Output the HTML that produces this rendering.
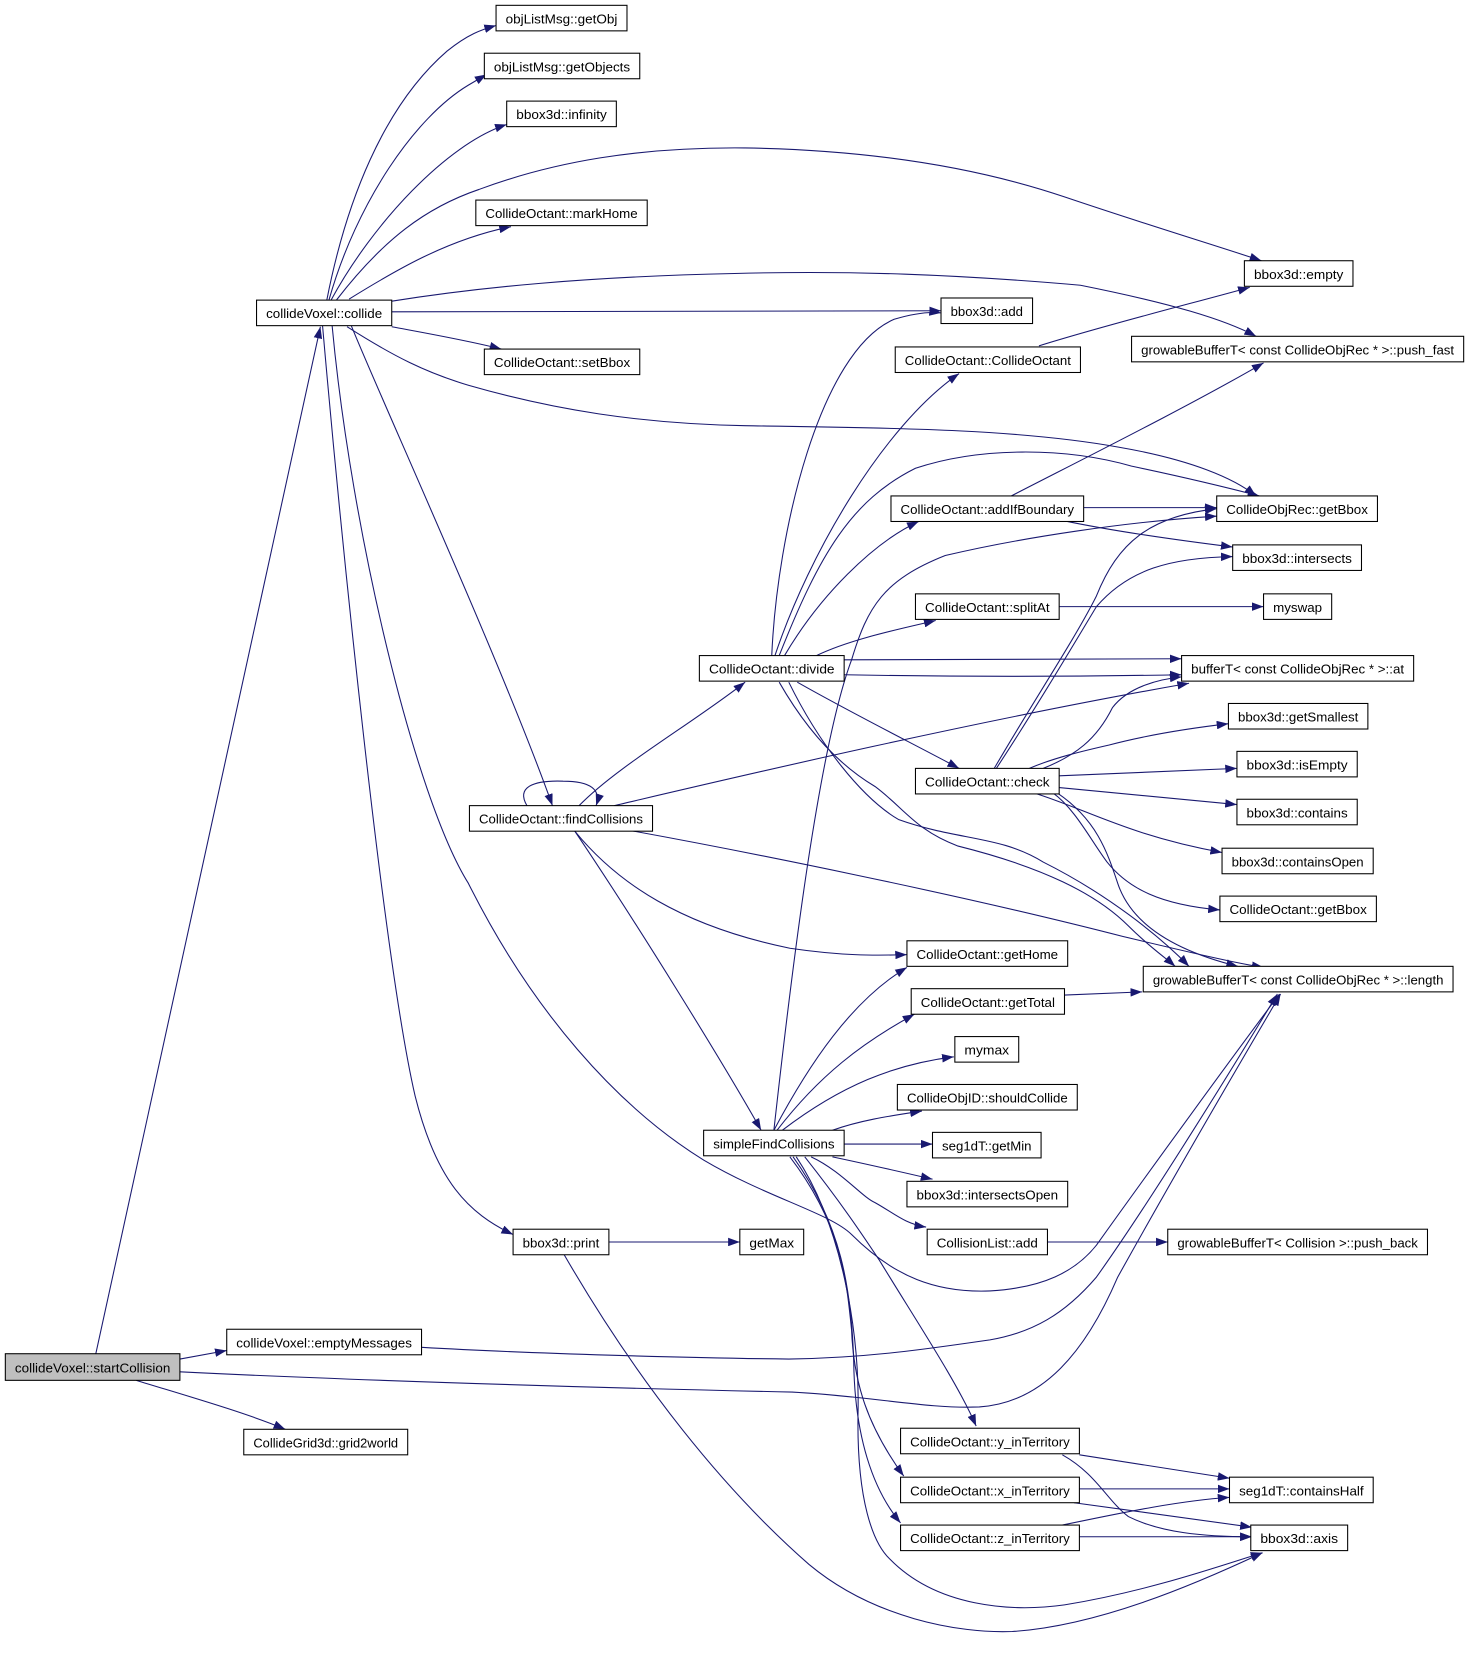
<!DOCTYPE html>
<html><head><meta charset="utf-8"><style>
html,body{margin:0;padding:0;background:#fff;}
svg{display:block;}
text{font-family:"Liberation Sans",Arial,sans-serif;font-size:12.5px;fill:#000;}
.e{fill:none;stroke:#191970;stroke-width:1;marker-end:url(#ah);}
.n{fill:#fff;stroke:#000;stroke-width:1;}
</style></head><body>
<svg width="1469" height="1673" viewBox="0 0 1380 1572" preserveAspectRatio="none" xmlns="http://www.w3.org/2000/svg">
<defs>
<marker id="ah" viewBox="0 0 11 8" refX="11" refY="4" markerWidth="11" markerHeight="8" markerUnits="userSpaceOnUse" orient="auto">
<path d="M0,0 L11,4 L0,8 z" fill="#191970"/>
</marker>
</defs>
<rect width="1380" height="1572" fill="#fff"/>
<!-- edges -->
<path class="e" d="M90,1272 L301,307"/>
<path class="e" d="M169,1277 L213,1269"/>
<path class="e" d="M169,1289 C350,1298 600,1305 744,1308 C820,1312 870,1324 920,1322 C980,1318 1020,1270 1050,1200 C1100,1110 1170,990 1203,934"/>
<path class="e" d="M128,1297 C170,1310 230,1327 268,1343"/>
<path class="e" d="M396,1266 C500,1272 650,1276 741,1277 C820,1276 880,1266 930,1259 C970,1252 1000,1235 1030,1200 C1080,1130 1160,1000 1200,934"/>
<path class="e" d="M307,282 C325,190 360,100 420,48 C440,32 452,28 466,24"/>
<path class="e" d="M309,282 C335,190 390,110 440,80 L457,70"/>
<path class="e" d="M311,282 C350,210 420,135 476,117"/>
<path class="e" d="M316,282 C360,225 400,195 450,178 C520,152 600,138 700,139 C820,141 920,158 1000,185 C1080,212 1140,230 1185,245"/>
<path class="e" d="M328,281 C370,255 420,225 480,213"/>
<path class="e" d="M368,283 C450,270 550,260 690,257 C800,254 900,258 1015,268 C1100,285 1150,300 1180,316"/>
<path class="e" d="M368,293 L884,292"/>
<path class="e" d="M368,307 C400,313 440,320 471,328"/>
<path class="e" d="M326,307 C370,335 400,350 440,362 C520,385 600,398 700,400 C820,402 950,402 1050,420 C1120,432 1160,450 1180,466"/>
<path class="e" d="M330,306 C360,380 470,620 519,757"/>
<path class="e" d="M303,306 C320,500 360,900 390,1030 C410,1110 440,1140 482,1160"/>
<path class="e" d="M312,306 C330,500 390,750 440,830 C500,950 580,1040 661,1090 C720,1125 780,1140 800,1160 C840,1200 880,1215 930,1213 C980,1210 1010,1195 1030,1170 C1080,1100 1160,990 1202,934"/>
<path class="e" d="M495,757 C485,740 500,733 529,734 C555,734 565,742 560,757"/>
<path class="e" d="M544,757 C580,720 650,680 700,641"/>
<path class="e" d="M577,757 C650,740 900,680 1117,642"/>
<path class="e" d="M590,780 C700,800 900,840 1055,880 C1110,893 1160,905 1187,909"/>
<path class="e" d="M540,781 C600,870 680,1000 715,1062"/>
<path class="e" d="M540,781 C580,830 640,870 742,891 C790,898 820,898 852,897"/>
<path class="e" d="M725,616 C730,500 770,330 840,300 C860,294 875,293 884,294"/>
<path class="e" d="M728,616 C760,520 830,400 901,351"/>
<path class="e" d="M732,616 C770,520 800,470 860,440 C920,420 1000,420 1063,438 C1120,450 1160,460 1183,466"/>
<path class="e" d="M737,616 C770,560 820,510 863,490"/>
<path class="e" d="M767,616 C800,600 850,590 879,583"/>
<path class="e" d="M793,620 L1110,619"/>
<path class="e" d="M793,634 C900,636 1000,636 1110,634"/>
<path class="e" d="M749,641 C800,670 860,700 901,722"/>
<path class="e" d="M732,641 C760,690 790,720 822,739 C850,760 860,780 900,795 C980,815 1030,840 1060,870 C1080,890 1095,900 1104,908"/>
<path class="e" d="M741,641 C770,700 810,750 844,770 C900,790 940,785 980,810 C1040,840 1090,880 1117,908"/>
<path class="e" d="M950,466 C1020,430 1120,380 1187,341"/>
<path class="e" d="M1018,477 L1143,477"/>
<path class="e" d="M998,489 C1050,500 1110,508 1158,514"/>
<path class="e" d="M976,325 C1040,305 1120,285 1174,270"/>
<path class="e" d="M995,570 L1187,570"/>
<path class="e" d="M934,722 C970,660 1010,600 1030,560 C1050,510 1080,485 1143,478"/>
<path class="e" d="M936,722 C970,670 1000,620 1030,570 C1060,535 1100,524 1158,523"/>
<path class="e" d="M980,722 C1010,710 1030,695 1045,665 C1060,645 1090,638 1110,636"/>
<path class="e" d="M967,722 C990,712 1020,705 1042,700 C1080,690 1120,684 1154,680"/>
<path class="e" d="M995,729 L1162,722"/>
<path class="e" d="M995,740 L1162,756"/>
<path class="e" d="M971,745 C1020,760 1060,785 1148,801"/>
<path class="e" d="M989,745 C1010,760 1025,790 1040,810 C1060,835 1090,850 1146,855"/>
<path class="e" d="M993,745 C1030,770 1040,800 1050,830 C1060,860 1090,890 1163,908"/>
<path class="e" d="M1000,935 L1073,932"/>
<path class="e" d="M727,1062 C745,900 770,700 800,620 C815,570 830,545 888,522 C960,505 1060,490 1143,485"/>
<path class="e" d="M727,1062 C760,1000 800,940 852,909"/>
<path class="e" d="M730,1062 C770,1010 810,980 859,953"/>
<path class="e" d="M735,1062 C790,1020 840,1000 896,993"/>
<path class="e" d="M782,1062 C810,1052 840,1048 866,1044"/>
<path class="e" d="M793,1075 L876,1075"/>
<path class="e" d="M782,1087 C820,1095 850,1102 876,1108"/>
<path class="e" d="M762,1087 C790,1100 810,1125 822,1130 C840,1140 850,1150 870,1153"/>
<path class="e" d="M756,1087 C790,1130 810,1160 826,1184 C860,1240 900,1300 917,1340"/>
<path class="e" d="M742,1087 C790,1150 795,1200 800,1250 C802,1300 815,1340 849,1387"/>
<path class="e" d="M745,1087 C790,1150 800,1210 802,1280 C803,1350 820,1400 846,1431"/>
<path class="e" d="M748,1087 C790,1150 808,1250 806,1330 C805,1410 820,1450 836,1465 C880,1510 950,1515 1000,1508 C1080,1495 1150,1470 1186,1459"/>
<path class="e" d="M530,1179 C600,1300 680,1400 760,1470 C820,1520 900,1535 951,1533 C1030,1528 1120,1490 1186,1459"/>
<path class="e" d="M572,1167 L695,1167"/>
<path class="e" d="M984,1167 L1097,1167"/>
<path class="e" d="M1014,1367 L1155,1389"/>
<path class="e" d="M998,1367 C1030,1385 1040,1410 1060,1425 C1090,1440 1130,1444 1176,1444"/>
<path class="e" d="M1014,1399 L1155,1399"/>
<path class="e" d="M1009,1412 L1176,1435"/>
<path class="e" d="M998,1433 C1060,1420 1110,1410 1155,1407"/>
<path class="e" d="M1014,1444 L1176,1444"/>
<!-- nodes -->
<g>
<rect class="n" x="466" y="5" width="123" height="24"/><text x="527.5" y="22" text-anchor="middle" textLength="105" lengthAdjust="spacingAndGlyphs">objListMsg::getObj</text>
<rect class="n" x="455" y="50" width="146" height="24"/><text x="528" y="67" text-anchor="middle" textLength="128" lengthAdjust="spacingAndGlyphs">objListMsg::getObjects</text>
<rect class="n" x="476" y="95" width="103" height="24"/><text x="527.5" y="112" text-anchor="middle" textLength="85" lengthAdjust="spacingAndGlyphs">bbox3d::infinity</text>
<rect class="n" x="447" y="188" width="161" height="24"/><text x="527.5" y="205" text-anchor="middle" textLength="143" lengthAdjust="spacingAndGlyphs">CollideOctant::markHome</text>
<rect class="n" x="241" y="282" width="127" height="24"/><text x="304.5" y="299" text-anchor="middle" textLength="109" lengthAdjust="spacingAndGlyphs">collideVoxel::collide</text>
<rect class="n" x="455" y="328" width="146" height="24"/><text x="528" y="345" text-anchor="middle" textLength="128" lengthAdjust="spacingAndGlyphs">CollideOctant::setBbox</text>
<rect class="n" x="1169" y="245" width="102" height="24"/><text x="1220" y="262" text-anchor="middle" textLength="84" lengthAdjust="spacingAndGlyphs">bbox3d::empty</text>
<rect class="n" x="884" y="280" width="86" height="24"/><text x="927" y="297" text-anchor="middle" textLength="68" lengthAdjust="spacingAndGlyphs">bbox3d::add</text>
<rect class="n" x="841" y="326" width="174" height="24"/><text x="928" y="343" text-anchor="middle" textLength="156" lengthAdjust="spacingAndGlyphs">CollideOctant::CollideOctant</text>
<rect class="n" x="1063" y="316" width="312" height="24"/><text x="1219" y="333" text-anchor="middle" textLength="294" lengthAdjust="spacingAndGlyphs">growableBufferT&lt; const CollideObjRec * &gt;::push_fast</text>
<rect class="n" x="837" y="466" width="181" height="24"/><text x="927.5" y="483" text-anchor="middle" textLength="163" lengthAdjust="spacingAndGlyphs">CollideOctant::addIfBoundary</text>
<rect class="n" x="1143" y="466" width="151" height="24"/><text x="1218.5" y="483" text-anchor="middle" textLength="133" lengthAdjust="spacingAndGlyphs">CollideObjRec::getBbox</text>
<rect class="n" x="1158" y="512" width="121" height="24"/><text x="1218.5" y="529" text-anchor="middle" textLength="103" lengthAdjust="spacingAndGlyphs">bbox3d::intersects</text>
<rect class="n" x="860" y="558" width="135" height="24"/><text x="927.5" y="575" text-anchor="middle" textLength="117" lengthAdjust="spacingAndGlyphs">CollideOctant::splitAt</text>
<rect class="n" x="1187" y="558" width="64" height="24"/><text x="1219" y="575" text-anchor="middle" textLength="46" lengthAdjust="spacingAndGlyphs">myswap</text>
<rect class="n" x="657" y="616" width="136" height="24"/><text x="725" y="633" text-anchor="middle" textLength="118" lengthAdjust="spacingAndGlyphs">CollideOctant::divide</text>
<rect class="n" x="1110" y="616" width="218" height="24"/><text x="1219" y="633" text-anchor="middle" textLength="200" lengthAdjust="spacingAndGlyphs">bufferT&lt; const CollideObjRec * &gt;::at</text>
<rect class="n" x="1154" y="661" width="131" height="24"/><text x="1219.5" y="678" text-anchor="middle" textLength="113" lengthAdjust="spacingAndGlyphs">bbox3d::getSmallest</text>
<rect class="n" x="1162" y="706" width="113" height="24"/><text x="1218.5" y="723" text-anchor="middle" textLength="95" lengthAdjust="spacingAndGlyphs">bbox3d::isEmpty</text>
<rect class="n" x="860" y="722" width="135" height="24"/><text x="927.5" y="739" text-anchor="middle" textLength="117" lengthAdjust="spacingAndGlyphs">CollideOctant::check</text>
<rect class="n" x="1162" y="751" width="113" height="24"/><text x="1218.5" y="768" text-anchor="middle" textLength="95" lengthAdjust="spacingAndGlyphs">bbox3d::contains</text>
<rect class="n" x="441" y="757" width="172" height="24"/><text x="527" y="774" text-anchor="middle" textLength="154" lengthAdjust="spacingAndGlyphs">CollideOctant::findCollisions</text>
<rect class="n" x="1148" y="797" width="142" height="24"/><text x="1219" y="814" text-anchor="middle" textLength="124" lengthAdjust="spacingAndGlyphs">bbox3d::containsOpen</text>
<rect class="n" x="1146" y="842" width="147" height="24"/><text x="1219.5" y="859" text-anchor="middle" textLength="129" lengthAdjust="spacingAndGlyphs">CollideOctant::getBbox</text>
<rect class="n" x="852" y="884" width="151" height="24"/><text x="927.5" y="901" text-anchor="middle" textLength="133" lengthAdjust="spacingAndGlyphs">CollideOctant::getHome</text>
<rect class="n" x="1074" y="908" width="291" height="24"/><text x="1219.5" y="925" text-anchor="middle" textLength="273" lengthAdjust="spacingAndGlyphs">growableBufferT&lt; const CollideObjRec * &gt;::length</text>
<rect class="n" x="856" y="929" width="144" height="24"/><text x="928" y="946" text-anchor="middle" textLength="126" lengthAdjust="spacingAndGlyphs">CollideOctant::getTotal</text>
<rect class="n" x="897" y="974" width="60" height="24"/><text x="927" y="991" text-anchor="middle" textLength="42" lengthAdjust="spacingAndGlyphs">mymax</text>
<rect class="n" x="843" y="1019" width="169" height="24"/><text x="927.5" y="1036" text-anchor="middle" textLength="151" lengthAdjust="spacingAndGlyphs">CollideObjID::shouldCollide</text>
<rect class="n" x="661" y="1062" width="132" height="24"/><text x="727" y="1079" text-anchor="middle" textLength="114" lengthAdjust="spacingAndGlyphs">simpleFindCollisions</text>
<rect class="n" x="876" y="1064" width="102" height="24"/><text x="927" y="1081" text-anchor="middle" textLength="84" lengthAdjust="spacingAndGlyphs">seg1dT::getMin</text>
<rect class="n" x="852" y="1110" width="151" height="24"/><text x="927.5" y="1127" text-anchor="middle" textLength="133" lengthAdjust="spacingAndGlyphs">bbox3d::intersectsOpen</text>
<rect class="n" x="482" y="1155" width="90" height="24"/><text x="527" y="1172" text-anchor="middle" textLength="72" lengthAdjust="spacingAndGlyphs">bbox3d::print</text>
<rect class="n" x="695" y="1155" width="60" height="24"/><text x="725" y="1172" text-anchor="middle" textLength="42" lengthAdjust="spacingAndGlyphs">getMax</text>
<rect class="n" x="871" y="1155" width="113" height="24"/><text x="927.5" y="1172" text-anchor="middle" textLength="95" lengthAdjust="spacingAndGlyphs">CollisionList::add</text>
<rect class="n" x="1097" y="1155" width="244" height="24"/><text x="1219" y="1172" text-anchor="middle" textLength="226" lengthAdjust="spacingAndGlyphs">growableBufferT&lt; Collision &gt;::push_back</text>
<rect class="n" x="213" y="1249" width="183" height="24"/><text x="304.5" y="1266" text-anchor="middle" textLength="165" lengthAdjust="spacingAndGlyphs">collideVoxel::emptyMessages</text>
<rect x="5" y="1272" width="164" height="25" fill="#bfbfbf" stroke="#000" stroke-width="1"/><text x="87" y="1289.5" text-anchor="middle" textLength="146" lengthAdjust="spacingAndGlyphs">collideVoxel::startCollision</text>
<rect class="n" x="229" y="1343" width="154" height="24"/><text x="306" y="1360" text-anchor="middle" textLength="136" lengthAdjust="spacingAndGlyphs">CollideGrid3d::grid2world</text>
<rect class="n" x="846" y="1342" width="168" height="24"/><text x="930" y="1359" text-anchor="middle" textLength="150" lengthAdjust="spacingAndGlyphs">CollideOctant::y_inTerritory</text>
<rect class="n" x="846" y="1388" width="168" height="24"/><text x="930" y="1405" text-anchor="middle" textLength="150" lengthAdjust="spacingAndGlyphs">CollideOctant::x_inTerritory</text>
<rect class="n" x="846" y="1433" width="168" height="24"/><text x="930" y="1450" text-anchor="middle" textLength="150" lengthAdjust="spacingAndGlyphs">CollideOctant::z_inTerritory</text>
<rect class="n" x="1155" y="1388" width="135" height="24"/><text x="1222.5" y="1405" text-anchor="middle" textLength="117" lengthAdjust="spacingAndGlyphs">seg1dT::containsHalf</text>
<rect class="n" x="1175" y="1433" width="91" height="24"/><text x="1220.5" y="1450" text-anchor="middle" textLength="73" lengthAdjust="spacingAndGlyphs">bbox3d::axis</text>
</g>
</svg>
</body></html>
